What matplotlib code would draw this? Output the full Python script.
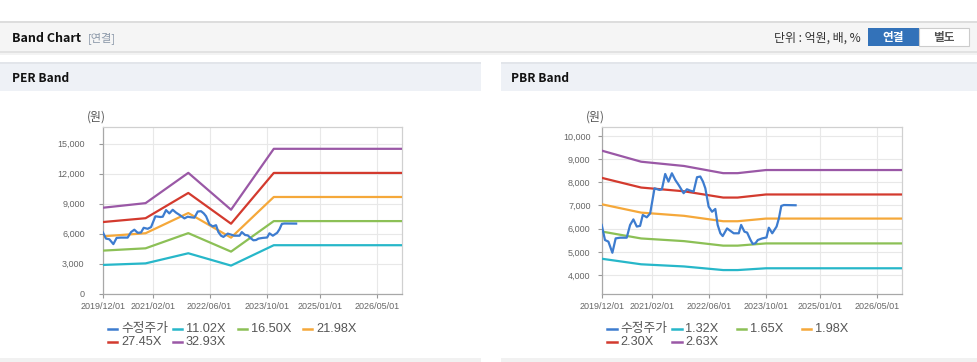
import pandas as pd
import matplotlib
matplotlib.use("Agg")
import matplotlib.pyplot as plt
from matplotlib.patches import Rectangle
from matplotlib.lines import Line2D

W, H = 978, 362
FONT = ['Liberation Sans', 'Noto Sans CJK KR', 'DejaVu Sans']
KFONT = ['Noto Sans CJK KR', 'DejaVu Sans']

# adjusted price (same series in both panels)
price_dates = ['2019-12-01', '2019-12-29', '2020-01-27', '2020-03-01', '2020-03-29', '2020-05-05',
               '2020-07-01', '2020-07-30', '2020-08-27', '2020-09-25', '2020-10-23', '2020-11-15',
               '2020-12-19', '2021-01-17', '2021-02-23', '2021-04-07', '2021-04-27', '2021-05-25',
               '2021-06-22', '2021-07-21', '2021-08-19', '2021-09-16', '2021-10-29', '2021-11-26',
               '2021-12-25', '2022-01-22', '2022-02-20', '2022-03-20', '2022-04-12', '2022-05-02',
               '2022-05-30', '2022-06-28', '2022-07-26', '2022-08-15', '2022-09-07', '2022-09-27',
               '2022-11-03', '2022-12-30', '2023-02-11', '2023-03-03', '2023-03-31', '2023-04-23',
               '2023-05-22', '2023-06-10', '2023-07-03', '2023-07-23', '2023-08-29', '2023-10-05',
               '2023-10-25', '2023-11-23', '2023-12-30', '2024-01-19', '2024-02-08', '2024-03-01',
               '2024-06-09']
price = [6160, 5510, 5440, 4960, 5580, 5610,
         5610, 6160, 6400, 6090, 6120, 6590,
         6490, 6660, 7740, 7670, 7700, 8360,
         8030, 8390, 8100, 7890, 7530, 7700,
         7640, 7600, 8220, 8250, 8030, 7740,
         6950, 6730, 6850, 6160, 5800, 5680,
         6010, 5800, 5800, 6160, 5870, 5830,
         5510, 5340, 5370, 5510, 5580, 5620,
         6040, 5800, 6090, 6450, 6980, 7020,
         7010]

# PER band
per_dates = ['2019-12-01', '2020-12-01', '2021-12-01', '2022-12-01', '2023-12-01', '2026-11-30']
per_labels = ['11.02X', '16.50X', '21.98X', '27.45X', '32.93X']
per_1102 = [2876, 3031, 4044, 2810, 4849, 4849]
per_1650 = [4307, 4538, 6056, 4208, 7260, 7260]
per_2198 = [5737, 6045, 8067, 5605, 9671, 9671]
per_2745 = [7164, 7549, 10074, 7000, 12078, 12078]
per_3293 = [8595, 9056, 12085, 8397, 14489, 14489]

# PBR band
pbr_dates = ['2019-12-01', '2020-11-01', '2021-11-01', '2022-10-01', '2023-02-01', '2023-10-01', '2026-11-30']
pbr_labels = ['1.32X', '1.65X', '1.98X', '2.30X', '2.63X']
pbr_132 = [4702, 4462, 4369, 4213, 4213, 4290, 4290]
pbr_165 = [5877, 5577, 5462, 5267, 5267, 5363, 5363]
pbr_198 = [7053, 6692, 6554, 6320, 6320, 6435, 6435]
pbr_230 = [8193, 7774, 7613, 7342, 7342, 7475, 7475]
pbr_263 = [9368, 8889, 8705, 8395, 8395, 8530, 8530]

tick_dates = ['2019-12-01', '2021-02-01', '2022-06-01', '2023-10-01', '2025-01-01', '2026-05-01']
tick_labels = ['2019/12/01', '2021/02/01', '2022/06/01', '2023/10/01', '2025/01/01', '2026/05/01']

price_name = '수정주가'
colors = ['#3d7ccf', '#27b7c9', '#8cc056', '#f5a83a', '#d33a2e', '#9a58a6']


def fx(x):
    return x / W


def fy(y):
    return 1 - y / H


def rect(fig, x0, y0, x1, y1, fc, ec='none', lw=0):
    fig.patches.append(Rectangle((fx(x0), fy(y1)), (x1 - x0) / W, (y1 - y0) / H,
                                 transform=fig.transFigure, fc=fc, ec=ec, lw=lw, zorder=0))


def band_axes(fig, box, bands, labels, ylim, yticks, ypad, legend_x):
    x0, y0, x1, y1 = box
    ax = fig.add_axes([fx(x0), fy(y1), (x1 - x0) / W, (y1 - y0) / H])
    dates = pd.to_datetime(bands[0])
    ax.plot(pd.to_datetime(price_dates), price, color=colors[0], lw=1.6, zorder=5)
    for i, vals in enumerate(bands[1:]):
        ax.plot(dates, vals, color=colors[i + 1], lw=1.6, zorder=4)
    ax.set_xlim(pd.Timestamp('2019-12-01'), pd.Timestamp('2026-11-30'))
    ax.set_ylim(*ylim)
    ax.set_xticks(pd.to_datetime(tick_dates))
    ax.set_xticklabels(tick_labels)
    ax.set_yticks(yticks)
    ax.set_yticklabels([f'{v:,}' for v in yticks])
    ax.tick_params(axis='both', labelsize=6.5, labelcolor='#666666', color='#999999',
                   length=3, width=0.8, direction='out')
    ax.tick_params(axis='y', pad=ypad)
    ax.tick_params(axis='x', pad=3)
    for t in ax.get_xticklabels() + ax.get_yticklabels():
        t.set_family(FONT)
    ax.grid(True, color='#e8e8e8', lw=0.8)
    ax.set_axisbelow(True)
    for s in ['left', 'bottom']:
        ax.spines[s].set_color('#a8a8a8')
    for s in ['top', 'right']:
        ax.spines[s].set_color('#d0d0d0')
    for s in ax.spines.values():
        s.set_linewidth(0.9)
    fig.text(fx(x0 - 16), fy(y0 - 10), '(원)', fontsize=8.6, color='#555555',
             family=KFONT, va='center', ha='left')

    names = [price_name] + labels
    for i, name in enumerate(names):
        col, row = i % 4, i // 4
        lx = legend_x + 65 * col
        ly = 329 + 13.3 * row
        fig.add_artist(Line2D([fx(lx), fx(lx + 9.5)], [fy(ly), fy(ly)], color=colors[i],
                              lw=1.8, transform=fig.transFigure))
        fig.text(fx(lx + 13), fy(ly), name, fontsize=9.2, color='#555555', family=FONT,
                 va='center', ha='left')
    return ax


fig = plt.figure(figsize=(W / 100, H / 100), dpi=100)
fig.patch.set_facecolor('white')

# page chrome
rect(fig, 0, 21, W, 52, '#f5f5f5')
rect(fig, 0, 21, W, 22.5, '#dddddd')
rect(fig, 0, 51.5, W, 53, '#e2e2e2')
rect(fig, 0, 53, W, 55, '#f3f3f3')
rect(fig, 0, 62, 481, 91, '#eef1f6')
rect(fig, 0, 62, 481, 63.5, '#e2e5ea')
rect(fig, 501, 62, W, 91, '#eef1f6')
rect(fig, 501, 62, W, 63.5, '#e2e5ea')
rect(fig, 0, 358, 481, H, '#f1f1f1')
rect(fig, 501, 358, W, H, '#f1f1f1')

fig.text(fx(12), fy(38), 'Band Chart', fontsize=9, weight='bold', color='#111111',
         family=KFONT, va='center')
fig.text(fx(88), fy(38), '[연결]', fontsize=8, color='#8a97a8', family=KFONT, va='center')
fig.text(fx(861), fy(38), '단위 : 억원, 배, %', fontsize=8.6, color='#333333',
         family=KFONT, va='center', ha='right')
rect(fig, 868, 28, 919, 46, '#3372b9')
rect(fig, 919, 28, 969, 46, 'white', ec='#cccccc', lw=0.8)
fig.text(fx(893.5), fy(37), '연결', fontsize=8.4, weight='bold', color='white',
         family=KFONT, va='center', ha='center')
fig.text(fx(944), fy(37), '별도', fontsize=8.4, weight='bold', color='#555555',
         family=KFONT, va='center', ha='center')
fig.text(fx(12), fy(78), 'PER Band', fontsize=8.6, weight='bold', color='#111111',
         family=KFONT, va='center')
fig.text(fx(511), fy(78), 'PBR Band', fontsize=8.6, weight='bold', color='#111111',
         family=KFONT, va='center')

band_axes(fig, (102.7, 126.7, 402, 293.7),
          [per_dates, per_1102, per_1650, per_2198, per_2745, per_3293], per_labels,
          (0, 16700), [0, 3000, 6000, 9000, 12000, 15000], 10, 108)
band_axes(fig, (601.7, 126.7, 901.7, 294),
          [pbr_dates, pbr_132, pbr_165, pbr_198, pbr_230, pbr_263], pbr_labels,
          (3180, 10400), [4000, 5000, 6000, 7000, 8000, 9000, 10000], 5, 607)

fig.savefig('out.png', dpi=100)
